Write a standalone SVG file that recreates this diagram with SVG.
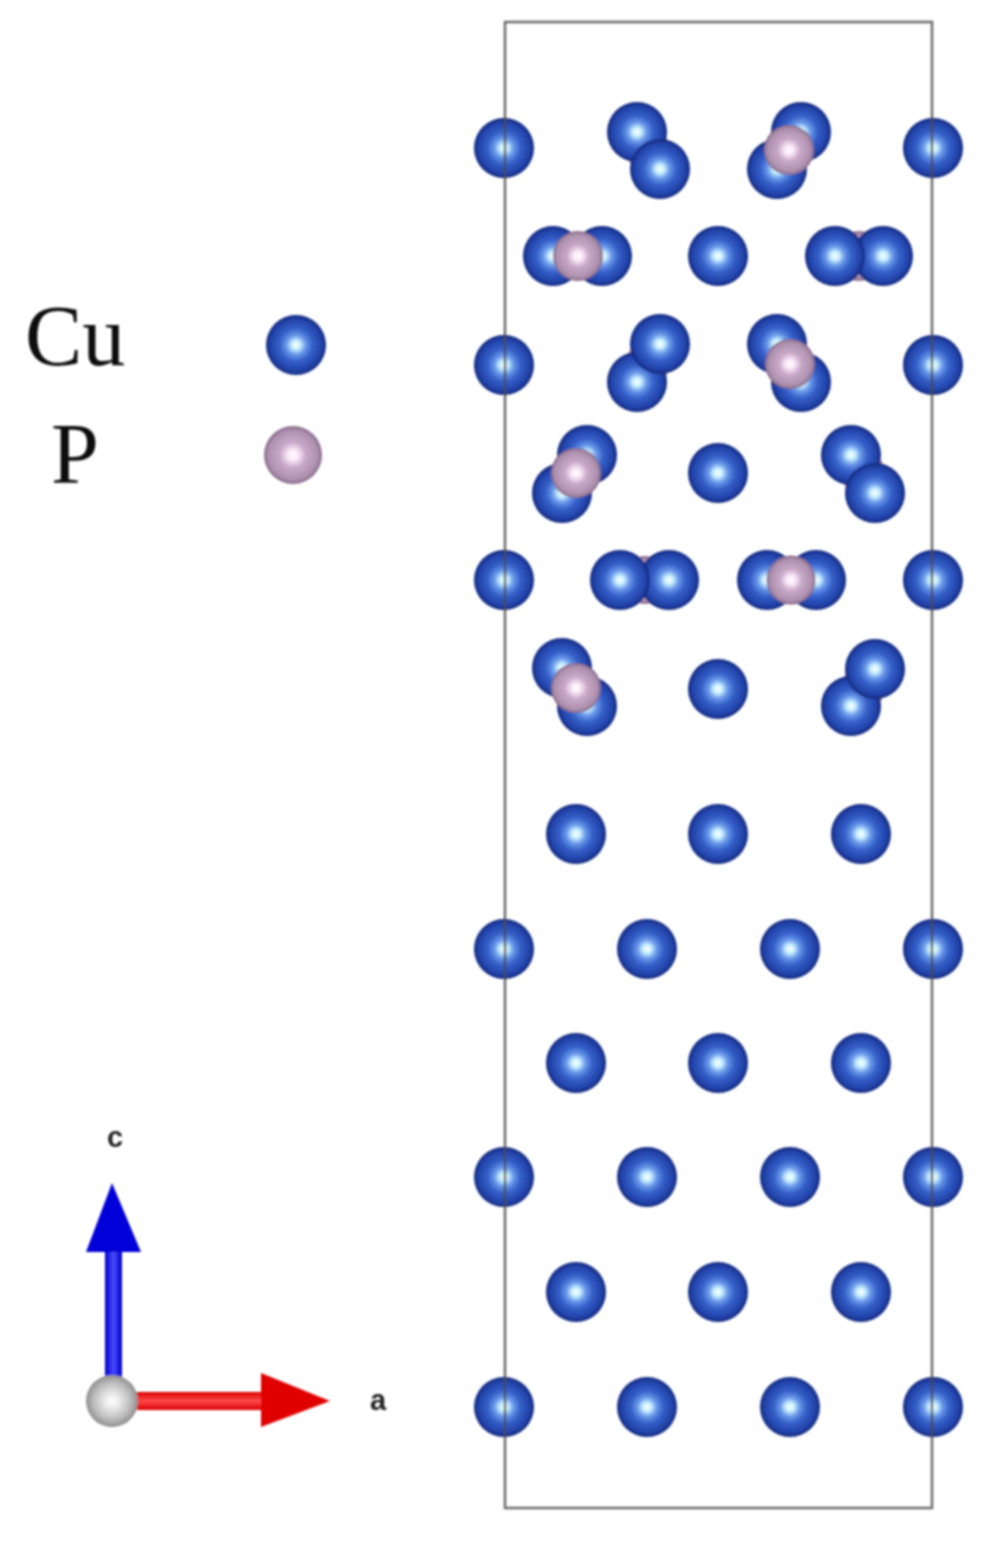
<svg xmlns="http://www.w3.org/2000/svg" width="988" height="1544" viewBox="0 0 988 1544">
<style>
.cu{fill:url(#cuGrad)}
.p{fill:url(#pGrad)}
.t{font-family:"Liberation Serif","Times New Roman",serif;font-size:86px;fill:#111}
.ax{font-family:"Liberation Sans",Arial,sans-serif;font-size:29px;font-weight:bold;fill:#222}
</style>
<defs>
<radialGradient id="cuGrad" cx="0.5" cy="0.5" r="0.5">
<stop offset="0" stop-color="#ffffff"/>
<stop offset="0.14" stop-color="#c8f0ff"/>
<stop offset="0.32" stop-color="#6a98ea"/>
<stop offset="0.55" stop-color="#3560c8"/>
<stop offset="0.85" stop-color="#2243aa"/>
<stop offset="1" stop-color="#14287c"/>
</radialGradient>
<radialGradient id="pGrad" cx="0.5" cy="0.5" r="0.5">
<stop offset="0" stop-color="#ffffff"/>
<stop offset="0.18" stop-color="#fbe8f8"/>
<stop offset="0.45" stop-color="#c8a8c8"/>
<stop offset="0.85" stop-color="#ad90ad"/>
<stop offset="1" stop-color="#84698a"/>
</radialGradient>
<linearGradient id="blueShaft" x1="0" y1="0" x2="1" y2="0">
<stop offset="0" stop-color="#0000c8"/><stop offset="0.5" stop-color="#4a4aff"/><stop offset="1" stop-color="#0000c8"/>
</linearGradient>
<linearGradient id="redShaft" x1="0" y1="0" x2="0" y2="1">
<stop offset="0" stop-color="#d80000"/><stop offset="0.5" stop-color="#ff4a4a"/><stop offset="1" stop-color="#d80000"/>
</linearGradient>
<radialGradient id="origin" cx="0.5" cy="0.5" r="0.5">
<stop offset="0" stop-color="#ffffff"/><stop offset="0.25" stop-color="#ececec"/><stop offset="0.7" stop-color="#bdbdbd"/><stop offset="1" stop-color="#8f8f8f"/>
</radialGradient>
<filter id="soft" x="-5%" y="-5%" width="110%" height="110%"><feGaussianBlur stdDeviation="1.2"/></filter>
</defs>
<rect width="988" height="1544" fill="#ffffff"/>
<g filter="url(#soft)">
<g id="atoms">
<g id="row1">
<circle id="r1-a" class="cu" cx="504" cy="148" r="30"/>
<circle id="r1-p-hidden" class="p" cx="648" cy="150" r="22"/>
<circle id="r1-b" class="cu" cx="637" cy="132" r="30"/>
<circle id="r1-c" class="cu" cx="660" cy="169" r="30"/>
<circle id="r1-d" class="cu" cx="801" cy="132" r="30"/>
<circle id="r1-e" class="cu" cx="777" cy="169" r="30"/>
<circle id="r1-p" class="p" cx="789" cy="150" r="25"/>
<circle id="r1-f" class="cu" cx="933" cy="148" r="30"/>
</g>
<g id="row2">
<circle id="r2-a" class="cu" cx="553" cy="256" r="30"/>
<circle id="r2-b" class="cu" cx="602" cy="256" r="30"/>
<circle id="r2-p" class="p" cx="578" cy="256" r="25"/>
<circle id="r2-c" class="cu" cx="718" cy="256" r="30"/>
<circle id="r2-p-hidden" class="p" cx="859" cy="256" r="25"/>
<circle id="r2-d" class="cu" cx="883" cy="256" r="30"/>
<circle id="r2-e" class="cu" cx="835" cy="256" r="30"/>
</g>
<g id="row3">
<circle id="r3-a" class="cu" cx="504" cy="365" r="30"/>
<circle id="r3-p-hidden" class="p" cx="648" cy="363" r="22"/>
<circle id="r3-b" class="cu" cx="637" cy="382" r="30"/>
<circle id="r3-c" class="cu" cx="660" cy="344" r="30"/>
<circle id="r3-d" class="cu" cx="777" cy="344" r="30"/>
<circle id="r3-e" class="cu" cx="801" cy="382" r="30"/>
<circle id="r3-p" class="p" cx="790" cy="364" r="25"/>
<circle id="r3-f" class="cu" cx="933" cy="365" r="30"/>
</g>
<g id="row4">
<circle id="r4-a" class="cu" cx="587" cy="455" r="30"/>
<circle id="r4-b" class="cu" cx="562" cy="493" r="30"/>
<circle id="r4-p" class="p" cx="576" cy="473" r="25"/>
<circle id="r4-c" class="cu" cx="718" cy="473" r="30"/>
<circle id="r4-p-hidden" class="p" cx="863" cy="473" r="22"/>
<circle id="r4-d" class="cu" cx="851" cy="455" r="30"/>
<circle id="r4-e" class="cu" cx="875" cy="493" r="30"/>
</g>
<g id="row5">
<circle id="r5-a" class="cu" cx="504" cy="580" r="30"/>
<circle id="r5-p-hidden" class="p" cx="645" cy="580" r="24"/>
<circle id="r5-b" class="cu" cx="669" cy="580" r="30"/>
<circle id="r5-c" class="cu" cx="620" cy="580" r="30"/>
<circle id="r5-d" class="cu" cx="767" cy="580" r="30"/>
<circle id="r5-e" class="cu" cx="816" cy="580" r="30"/>
<circle id="r5-p" class="p" cx="791" cy="580" r="24.5"/>
<circle id="r5-f" class="cu" cx="933" cy="580" r="30"/>
</g>
<g id="row6">
<circle id="r6-a" class="cu" cx="562" cy="668" r="30"/>
<circle id="r6-b" class="cu" cx="587" cy="706" r="30"/>
<circle id="r6-p" class="p" cx="576" cy="688" r="25"/>
<circle id="r6-c" class="cu" cx="718" cy="689" r="30"/>
<circle id="r6-p-hidden" class="p" cx="863" cy="688" r="22"/>
<circle id="r6-d" class="cu" cx="851" cy="706" r="30"/>
<circle id="r6-e" class="cu" cx="875" cy="669" r="30"/>
</g>
<g id="row7">
<circle id="r7-a" class="cu" cx="576" cy="834" r="30"/>
<circle id="r7-b" class="cu" cx="718" cy="834" r="30"/>
<circle id="r7-c" class="cu" cx="861" cy="834" r="30"/>
</g>
<g id="row8">
<circle id="r8-a" class="cu" cx="504" cy="949" r="30"/>
<circle id="r8-b" class="cu" cx="647" cy="949" r="30"/>
<circle id="r8-c" class="cu" cx="790" cy="949" r="30"/>
<circle id="r8-d" class="cu" cx="933" cy="949" r="30"/>
</g>
<g id="row9">
<circle id="r9-a" class="cu" cx="576" cy="1063" r="30"/>
<circle id="r9-b" class="cu" cx="718" cy="1063" r="30"/>
<circle id="r9-c" class="cu" cx="861" cy="1063" r="30"/>
</g>
<g id="row10">
<circle id="r10-a" class="cu" cx="504" cy="1177" r="30"/>
<circle id="r10-b" class="cu" cx="647" cy="1177" r="30"/>
<circle id="r10-c" class="cu" cx="790" cy="1177" r="30"/>
<circle id="r10-d" class="cu" cx="933" cy="1177" r="30"/>
</g>
<g id="row11">
<circle id="r11-a" class="cu" cx="576" cy="1292" r="30"/>
<circle id="r11-b" class="cu" cx="718" cy="1292" r="30"/>
<circle id="r11-c" class="cu" cx="861" cy="1292" r="30"/>
</g>
<g id="row12">
<circle id="r12-a" class="cu" cx="504" cy="1407" r="30"/>
<circle id="r12-b" class="cu" cx="647" cy="1407" r="30"/>
<circle id="r12-c" class="cu" cx="790" cy="1407" r="30"/>
<circle id="r12-d" class="cu" cx="933" cy="1407" r="30"/>
</g>
</g>
<g id="cell"><rect x="505" y="22" width="427" height="1486" fill="none" stroke="#4a4a4a" stroke-opacity="0.85" stroke-width="2.4"/></g>
<g id="legend">
<g id="legend-cu"><text class="t" x="25" y="365">Cu</text><circle class="cu" cx="296" cy="345" r="30"/></g>
<g id="legend-p"><text class="t" x="51" y="483">P</text><circle class="p" cx="293" cy="455" r="29"/></g>
</g>
<g id="connectors">
<g id="axis-c">
<rect x="105" y="1250" width="17" height="130" fill="url(#blueShaft)"/>
<polygon points="112,1183 141,1252 86,1252" fill="#0000d8"/>
</g>
<g id="axis-a">
<rect x="130" y="1392" width="135" height="18" fill="url(#redShaft)"/>
<polygon points="261,1373 330,1401 261,1427" fill="#e00000"/>
</g>
</g>
<g id="origin-node"><circle cx="112" cy="1401" r="26" fill="url(#origin)"/></g>
<g id="labels">
<text class="ax" x="115" y="1147" text-anchor="middle">c</text>
<text class="ax" x="378" y="1410" text-anchor="middle">a</text>
</g>
</g>
</svg>
